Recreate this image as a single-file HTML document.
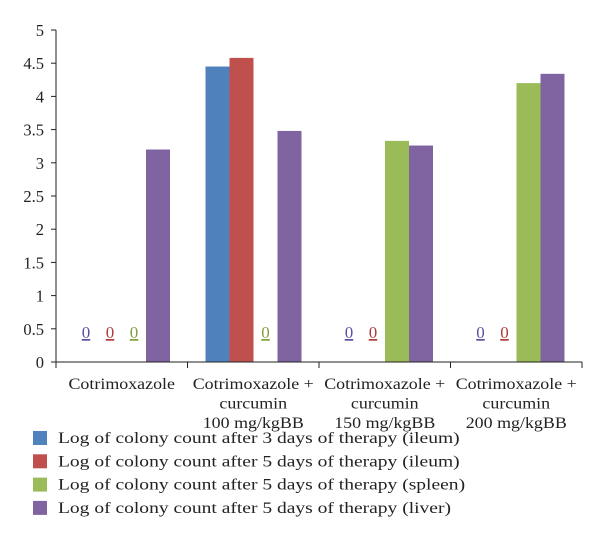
<!DOCTYPE html>
<html><head><meta charset="utf-8"><style>
body{margin:0;background:#fff;}
svg text{font-family:"Liberation Serif",serif;fill:#222;}
</style></head><body>
<svg id="c" width="600" height="555"></svg>
<script>
const categories=[["Cotrimoxazole"],["Cotrimoxazole +","curcumin","100 mg/kgBB"],["Cotrimoxazole +","curcumin","150 mg/kgBB"],["Cotrimoxazole +","curcumin","200 mg/kgBB"]];
const seriesNames=["Log of colony count after 3 days of therapy (ileum)","Log of colony count after 5 days of therapy (ileum)","Log of colony count after 5 days of therapy (spleen)","Log of colony count after 5 days of therapy (liver)"];
const ileum3=[0,4.45,0,0];
const ileum5=[0,4.58,0,0];
const spleen5=[0,0,3.33,4.2];
const liver5=[3.2,3.48,3.26,4.34];
const yTicks=[0,0.5,1,1.5,2,2.5,3,3.5,4,4.5,5];
const colors=["#4f81bd","#c0504d","#9bbb59","#8064a2"];
const zeroColors=["#5a4f9e","#b03a3a","#7f9f3a","#7a5fa0"];
const series=[ileum3,ileum5,spleen5,liver5];
const svg=document.getElementById('c');const NS="http://www.w3.org/2000/svg";
function mk(t,a,p){const e=document.createElementNS(NS,t);for(const k in a)e.setAttribute(k,a[k]);(p||svg).appendChild(e);return e;}
function stretch(t,f){const w=t.getComputedTextLength();t.setAttribute('textLength',w*f);t.setAttribute('lengthAdjust','spacingAndGlyphs');}
const x0=56,gw=131.5,y0=362,yTop=30;
const y=v=>y0-(v/5)*(y0-yTop);
const gx=i=>x0+i*gw;
const barX=(g,s)=>gx(g)+18+s*24;
yTicks.forEach(t=>{
 const tl=mk('text',{x:44,y:y(t)+6,'text-anchor':'end','font-size':16.5});tl.textContent=t;
 
 
 const tk=mk('line',{x1:51,x2:x0,y1:y(t),y2:y(t),stroke:'#222'});
 
 
});
series.forEach((vals,s)=>vals.forEach((v,g)=>{
 if(v>0){const r=mk('rect',{x:barX(g,s),y:y(v),width:24,height:y0-y(v),fill:colors[s]});
  
  }
 else{const t=mk('text',{x:barX(g,s)+12,y:y0-24,'text-anchor':'middle','font-size':17,'text-decoration':'underline',style:'fill:'+zeroColors[s]});t.textContent='0';
  
  }
}));
const ya=mk('line',{x1:x0,x2:x0,y1:yTop,y2:y0,stroke:'#222'});


const xa=mk('line',{x1:x0,x2:x0+4*gw,y1:y0,y2:y0,stroke:'#222'});


for(let i=0;i<=4;i++){const t=mk('line',{x1:gx(i),x2:gx(i),y1:y0,y2:y0+6,stroke:'#222'});
 
 }
categories.forEach((lines,i)=>{
 lines.forEach((l,j)=>{const t=mk('text',{x:gx(i)+gw/2,y:y0+27+j*19.5,'text-anchor':'middle','font-size':16});t.textContent=l;
  
  
  stretch(t,1.12);});
});
seriesNames.forEach((n,i)=>{
 const yy=438+i*23.3;
 const r=mk('rect',{x:33,y:yy-7,width:14,height:14,fill:colors[i]});
 
 
 const t=mk('text',{x:58,y:yy+5,'font-size':16});t.textContent=n;
 
 
 stretch(t,1.22);
});
</script>
</body></html>
